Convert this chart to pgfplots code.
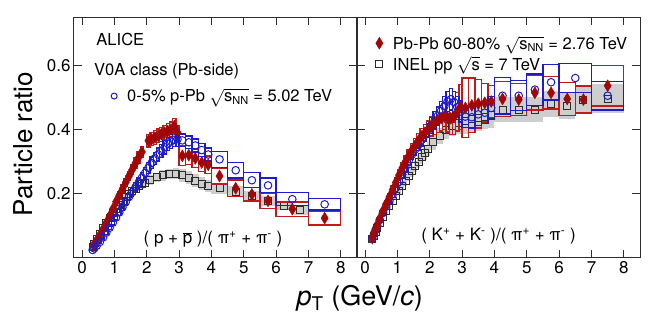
\documentclass[border=0pt]{standalone}
\usepackage{fontspec}
\setmainfont{TeX Gyre Heros}
\usepackage{pgfplots}
\pgfplotsset{compat=1.18}
\usepackage{pgfplotstable}

\definecolor{cblue}{RGB}{28,28,200}
\definecolor{cred}{RGB}{160,8,8}
\definecolor{credbox}{RGB}{195,25,25}
\definecolor{cgray}{RGB}{206,206,206}
\definecolor{cblack}{RGB}{45,45,45}

\pgfdeclareplotmark{nomark}{}
\pgfplotsset{
  sysbox/.style n args={2}{
    scatter, only marks, mark=nomark,
    visualization depends on={\thisrow{dx}\as\sysdx},
    visualization depends on={\thisrow{dy}\as\sysdy},
    scatter/@pre marker code/.code={%
      \pgfsetstrokecolor{#2}\pgfsetfillcolor{#2}\pgfsetlinewidth{1.3pt}%
      \pgfpathrectanglecorners{\pgfplotspointaxisdirectionxy{-\sysdx}{-\sysdy}}{\pgfplotspointaxisdirectionxy{\sysdx}{\sysdy}}%
      \pgfusepath{#1}},
    scatter/@post marker code/.code={},
  },
  myaxis/.style={
    scale only axis, width=283pt, height=241pt,
    xmin=-0.25, xmax=8.5, ymin=0, ymax=0.75,
    xtick={0,1,...,8}, ytick={0.2,0.4,0.6},
    tick align=inside, major tick length=8pt, minor tick num=0,
    axis line style={cblack, line width=1pt},
    tick style={cblack, line width=1pt},
    ticklabel style={font=\fontsize{17}{20}\selectfont},
    /pgf/number format/assume math mode=true,
    clip=false,
    legend cell align=left,
    legend style={draw=none, fill=none, font=\fontsize{16.5}{19}\selectfont, anchor=west, row sep=2pt,
      /tikz/every odd column/.append style={column sep=8pt}},
  },
  ppstyle/.style={only marks, mark=square, mark size=3.5pt, draw=cblack, line width=0.9pt},
  pbstyle/.style={only marks, mark=diamond*, mark size=6pt, color=cred, mark options={xscale=0.8}},
  ppbstyle/.style={only marks, mark=o, mark size=3.8pt, draw=cblue, line width=1pt},
}

% ---------------- (p + pbar)/(pi+ + pi-) ----------------
\pgfplotstableread{
x y dx dy
0.325 0.035 0.025 0.003
0.375 0.045 0.025 0.004
0.45 0.058 0.05 0.004
0.55 0.075 0.05 0.005
0.65 0.092 0.05 0.006
0.75 0.108 0.05 0.007
0.85 0.124 0.05 0.008
0.95 0.139 0.05 0.009
1.05 0.153 0.05 0.010
1.15 0.166 0.05 0.010
1.25 0.178 0.05 0.011
1.35 0.189 0.05 0.012
1.45 0.199 0.05 0.012
1.55 0.208 0.05 0.013
1.65 0.216 0.05 0.013
1.75 0.223 0.05 0.014
1.85 0.229 0.05 0.014
1.95 0.235 0.05 0.014
2.1 0.243 0.1 0.015
2.3 0.251 0.1 0.015
2.5 0.257 0.1 0.016
2.7 0.262 0.1 0.016
2.9 0.262 0.1 0.017
3.1 0.257 0.1 0.020
3.3 0.250 0.1 0.020
3.5 0.241 0.1 0.020
3.7 0.232 0.1 0.019
3.9 0.224 0.1 0.018
4.25 0.217 0.25 0.017
4.75 0.207 0.25 0.016
5.25 0.193 0.25 0.015
5.75 0.178 0.25 0.015
6.25 0.162 0.25 0.014
6.75 0.148 0.25 0.014
}\ppP

\pgfplotstableread{
x y dx dy ey
0.35 0.040 0.05 0.003 0
0.45 0.055 0.05 0.004 0
0.55 0.072 0.05 0.005 0
0.65 0.090 0.05 0.006 0
0.75 0.110 0.05 0.007 0
0.85 0.130 0.05 0.008 0
0.95 0.152 0.05 0.009 0
1.05 0.175 0.05 0.010 0
1.15 0.195 0.05 0.011 0
1.25 0.215 0.05 0.012 0
1.35 0.235 0.05 0.013 0
1.45 0.255 0.05 0.014 0
1.55 0.275 0.05 0.015 0
1.65 0.295 0.05 0.016 0
1.75 0.313 0.05 0.017 0
1.85 0.330 0.05 0.018 0
2.05 0.365 0.05 0.020 0.005
2.15 0.370 0.05 0.020 0.005
2.25 0.375 0.05 0.021 0.006
2.35 0.380 0.05 0.021 0.006
2.45 0.385 0.05 0.022 0.007
2.55 0.390 0.05 0.022 0.008
2.65 0.395 0.05 0.023 0.010
2.75 0.400 0.05 0.023 0.015
2.85 0.410 0.05 0.024 0.020
2.95 0.390 0.05 0.023 0.015
3.1 0.318 0.1 0.031 0.008
3.3 0.320 0.1 0.030 0.008
3.5 0.310 0.1 0.029 0.008
3.7 0.297 0.1 0.028 0.008
3.9 0.290 0.1 0.027 0.008
4.25 0.255 0.25 0.025 0.010
4.75 0.217 0.25 0.026 0.010
5.25 0.198 0.25 0.021 0.010
5.75 0.178 0.25 0.023 0.012
6.5 0.152 0.5 0.022 0.012
7.5 0.124 0.5 0.021 0.012
}\pbP

\pgfplotstableread{
x y dx dy
0.325 0.025 0.025 0.002
0.375 0.030 0.025 0.002
0.45 0.038 0.05 0.003
0.55 0.050 0.05 0.004
0.65 0.064 0.05 0.005
0.75 0.079 0.05 0.005
0.85 0.094 0.05 0.006
0.95 0.110 0.05 0.007
1.05 0.126 0.05 0.008
1.15 0.142 0.05 0.009
1.25 0.158 0.05 0.010
1.35 0.174 0.05 0.011
1.45 0.190 0.05 0.012
1.55 0.205 0.05 0.013
1.65 0.220 0.05 0.014
1.75 0.235 0.05 0.014
1.85 0.250 0.05 0.015
1.95 0.265 0.05 0.016
2.05 0.281 0.05 0.017
2.15 0.296 0.05 0.018
2.25 0.310 0.05 0.019
2.35 0.322 0.05 0.020
2.45 0.333 0.05 0.020
2.55 0.345 0.05 0.021
2.65 0.355 0.05 0.021
2.75 0.363 0.05 0.022
2.85 0.368 0.05 0.022
2.95 0.370 0.05 0.022
3.1 0.366 0.1 0.020
3.3 0.360 0.1 0.020
3.5 0.350 0.1 0.020
3.7 0.336 0.1 0.020
3.9 0.322 0.1 0.020
4.25 0.307 0.25 0.025
4.75 0.273 0.25 0.024
5.25 0.242 0.25 0.023
5.75 0.226 0.25 0.023
6.5 0.183 0.5 0.020
7.5 0.167 0.5 0.018
}\ppbP

% ---------------- (K+ + K-)/(pi+ + pi-) ----------------
\pgfplotstableread{
x y dx dy
0.225 0.058 0.025 0.004
0.275 0.070 0.025 0.005
0.325 0.082 0.025 0.005
0.375 0.093 0.025 0.006
0.45 0.108 0.05 0.007
0.55 0.127 0.05 0.008
0.65 0.145 0.05 0.009
0.75 0.162 0.05 0.010
0.85 0.178 0.05 0.011
0.95 0.194 0.05 0.012
1.05 0.210 0.05 0.013
1.15 0.225 0.05 0.014
1.25 0.240 0.05 0.015
1.35 0.255 0.05 0.016
1.45 0.270 0.05 0.017
1.55 0.285 0.05 0.018
1.65 0.300 0.05 0.019
1.75 0.313 0.05 0.020
1.85 0.326 0.05 0.021
1.95 0.340 0.05 0.022
2.1 0.360 0.1 0.024
2.3 0.380 0.1 0.026
2.5 0.397 0.1 0.028
2.7 0.410 0.1 0.030
2.9 0.420 0.1 0.035
3.1 0.427 0.1 0.040
3.3 0.432 0.1 0.040
3.5 0.436 0.1 0.040
3.7 0.440 0.1 0.040
3.9 0.444 0.1 0.040
4.25 0.462 0.25 0.040
4.75 0.462 0.25 0.040
5.25 0.462 0.25 0.040
5.75 0.480 0.25 0.040
6.25 0.472 0.25 0.040
6.75 0.491 0.25 0.040
7.5 0.495 0.5 0.045
}\ppK

\pgfplotstableread{
x y dx dy ey
0.225 0.062 0.025 0.004 0
0.275 0.077 0.025 0.005 0
0.325 0.090 0.025 0.005 0
0.375 0.103 0.025 0.006 0
0.45 0.122 0.05 0.007 0
0.55 0.146 0.05 0.009 0
0.65 0.168 0.05 0.010 0
0.75 0.190 0.05 0.011 0
0.85 0.212 0.05 0.013 0
0.95 0.235 0.05 0.014 0
1.05 0.258 0.05 0.016 0
1.15 0.280 0.05 0.017 0
1.25 0.300 0.05 0.018 0
1.35 0.318 0.05 0.020 0
1.45 0.335 0.05 0.021 0
1.55 0.350 0.05 0.022 0
1.65 0.365 0.05 0.023 0
1.75 0.378 0.05 0.024 0
1.85 0.390 0.05 0.025 0
1.95 0.400 0.05 0.026 0
2.05 0.410 0.05 0.030 0.005
2.15 0.420 0.05 0.035 0.005
2.25 0.430 0.05 0.040 0.006
2.35 0.435 0.05 0.040 0.006
2.45 0.440 0.05 0.040 0.007
2.55 0.437 0.05 0.045 0.008
2.65 0.435 0.05 0.050 0.010
2.75 0.440 0.05 0.055 0.010
2.85 0.455 0.05 0.060 0.012
2.95 0.470 0.05 0.070 0.012
3.1 0.467 0.1 0.093 0.010
3.3 0.475 0.1 0.085 0.010
3.5 0.480 0.1 0.075 0.010
3.7 0.483 0.1 0.060 0.010
3.9 0.487 0.1 0.050 0.010
4.25 0.495 0.25 0.055 0.012
4.75 0.493 0.25 0.050 0.012
5.25 0.514 0.25 0.053 0.014
5.75 0.514 0.25 0.050 0.014
6.25 0.495 0.25 0.052 0.014
6.75 0.493 0.25 0.042 0.014
7.5 0.536 0.5 0.063 0.015
}\pbK

\pgfplotstableread{
x y dx dy
0.225 0.060 0.025 0.004
0.275 0.075 0.025 0.004
0.325 0.088 0.025 0.005
0.375 0.100 0.025 0.005
0.45 0.118 0.05 0.006
0.55 0.140 0.05 0.007
0.65 0.160 0.05 0.008
0.75 0.178 0.05 0.009
0.85 0.198 0.05 0.010
0.95 0.218 0.05 0.011
1.05 0.238 0.05 0.012
1.15 0.260 0.05 0.013
1.25 0.282 0.05 0.014
1.35 0.303 0.05 0.015
1.45 0.322 0.05 0.016
1.55 0.338 0.05 0.017
1.65 0.353 0.05 0.018
1.75 0.368 0.05 0.019
1.85 0.383 0.05 0.020
1.95 0.398 0.05 0.021
2.05 0.413 0.05 0.025
2.15 0.428 0.05 0.027
2.25 0.443 0.05 0.029
2.35 0.458 0.05 0.030
2.45 0.472 0.05 0.031
2.55 0.487 0.05 0.032
2.65 0.494 0.05 0.033
2.75 0.485 0.05 0.033
2.85 0.470 0.05 0.033
2.95 0.456 0.05 0.033
3.1 0.440 0.1 0.033
3.3 0.438 0.1 0.033
3.5 0.447 0.1 0.034
3.7 0.452 0.1 0.034
3.9 0.467 0.1 0.035
4.25 0.505 0.25 0.057
4.75 0.505 0.25 0.047
5.25 0.524 0.25 0.049
5.75 0.547 0.25 0.055
6.5 0.560 0.5 0.045
7.5 0.505 0.5 0.044
}\ppbK

\begin{document}
\begin{tikzpicture}
\path[use as bounding box] (0pt,0pt) rectangle (664pt,318pt);

% ---------------- left panel ----------------
\begin{axis}[myaxis, at={(74pt,60pt)}, anchor=south west,
  legend style={at={(rel axis cs:0.12,0.672)}},
  legend image post style={mark size=3pt}]
\addplot[forget plot, sysbox={fill}{cgray}] table {\ppP};
\addplot[forget plot, ppstyle] table {\ppP};
\addplot[forget plot, sysbox={stroke}{credbox}] table {\pbP};
\addplot[forget plot, sysbox={stroke}{cblue}] table {\ppbP};
\addplot[forget plot, pbstyle, error bars/.cd, y dir=both, y explicit, error mark=none,
  error bar style={line width=1pt, cred}] table[y error=ey] {\pbP};
\addplot[ppbstyle] table {\ppbP};
\addlegendentry{0-5\% p-Pb $\sqrt{\mbox{s}_{\mbox{\fontsize{11}{12}\selectfont NN}}}$ = 5.02 TeV}

\node[anchor=west, font=\fontsize{16.5}{19}\selectfont] at (rel axis cs:0.067,0.905) {ALICE};
\node[anchor=west, font=\fontsize{16.5}{19}\selectfont] at (rel axis cs:0.059,0.775) {V0A class (Pb-side)};
\node[font=\fontsize{17}{20}\selectfont] at (rel axis cs:0.491,0.079)
  {( p + $\overline{\mbox{p}}$ )/( π\textsuperscript{+} + π\textsuperscript{-} )};
\node[rotate=90, font=\fontsize{26}{30}\selectfont] at (rel axis cs:-0.18,0.473) {Particle ratio};
\node[font=\fontsize{27}{30}\selectfont] at (rel axis cs:1.01,-0.166) {\textit{p}\textsubscript{T} (GeV/\textit{c})};
\end{axis}

% ---------------- right panel ----------------
\begin{axis}[myaxis, at={(357pt,60pt)}, anchor=south west, yticklabels={},
  reverse legend,
  legend style={at={(rel axis cs:0.055,0.846)}}]
\addplot[forget plot, sysbox={fill}{cgray}] table {\ppK};
\addplot[ppstyle] table {\ppK};
\addlegendentry{INEL pp $\sqrt{\mbox{s}}$ = 7 TeV}
\addplot[forget plot, sysbox={stroke}{credbox}] table {\pbK};
\addplot[forget plot, sysbox={stroke}{cblue}] table {\ppbK};
\addplot[forget plot, ppbstyle] table {\ppbK};
\addplot[pbstyle, error bars/.cd, y dir=both, y explicit, error mark=none,
  error bar style={line width=1pt, cred}] table[y error=ey] {\pbK};
\addlegendentry{Pb-Pb 60-80\% $\sqrt{\mbox{s}_{\mbox{\fontsize{11}{12}\selectfont NN}}}$ = 2.76 TeV}

\node[font=\fontsize{17}{20}\selectfont] at (rel axis cs:0.5,0.091)
  {( K\textsuperscript{+} + K\textsuperscript{-} )/( π\textsuperscript{+} + π\textsuperscript{-} )};
\end{axis}
\end{tikzpicture}
\end{document}
